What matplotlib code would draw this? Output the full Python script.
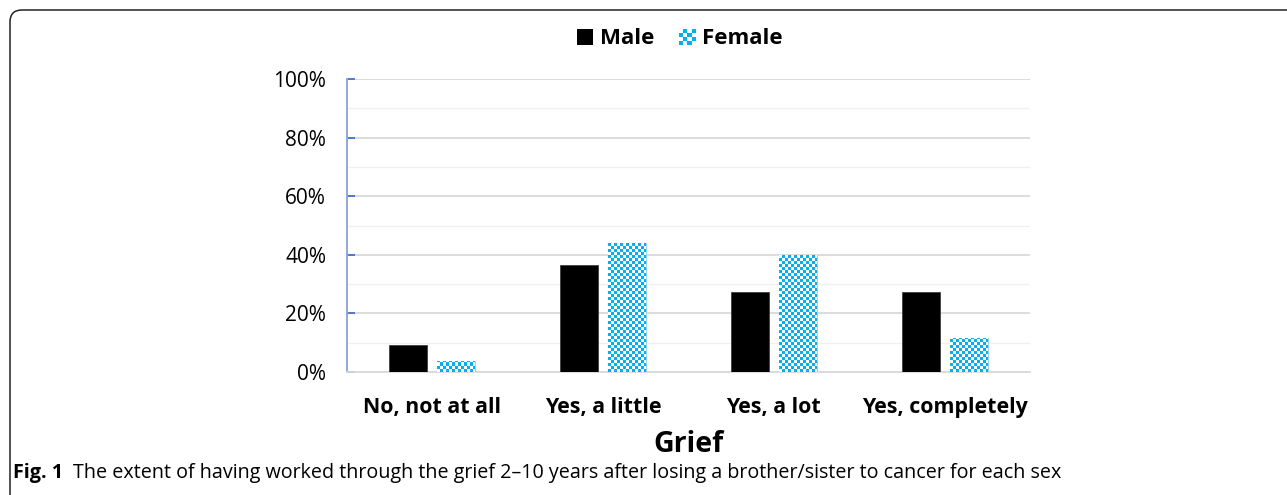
import numpy as np
import matplotlib
matplotlib.use("Agg")
import matplotlib.pyplot as plt
from matplotlib.patches import Rectangle, FancyBboxPatch, Patch
from matplotlib.legend_handler import HandlerBase
from matplotlib.ticker import MultipleLocator, PercentFormatter
from matplotlib.colors import ListedColormap

categories = ["No, not at all", "Yes, a little", "Yes, a lot", "Yes, completely"]
male = [9.1, 36.4, 27.3, 27.3]
female = [3.8, 44.0, 40.0, 11.6]
series_names = ["Male", "Female"]
ytick_values = [0, 20, 40, 60, 80, 100]
axis_title = "Grief"
caption_bold = "Fig. 1"
caption_text = "The extent of having worked through the grief 2\u201310 years after losing a brother/sister to cancer for each sex"

BLUE = "#00b0f0"
plt.rcParams["font.family"] = ["Open Sans", "DejaVu Sans"]

fig = plt.figure(figsize=(12.87, 4.95), dpi=100)
ax = fig.add_axes([347/1287, 1-372/495, (1030-347)/1287, (372-79)/495])

x = np.arange(len(categories))
w = 0.2225
off = 0.14
ax.bar(x - off, male, w, color="black", edgecolor="#404040", linewidth=0.6, zorder=3)
fbars = ax.bar(x + off, female, w, color="white", edgecolor="#7fd0f0", linewidth=0.6, zorder=3)

# checkerboard fill for female bars
ncx, ncy = 228, 98
yy, xx = np.mgrid[0:ncy, 0:ncx]
checker = ((xx + yy) % 2).astype(float)
cmap = ListedColormap(["white", BLUE])
for b in fbars:
    im = ax.imshow(checker, cmap=cmap, extent=(-0.5, len(categories) - 0.5, 0, 100),
                   aspect="auto", interpolation="nearest", zorder=3.5, origin="lower")
    im.set_clip_path(b)
ax.set_xlim(-0.5, len(categories) - 0.5)
ax.set_ylim(0, 100)

ax.yaxis.set_minor_locator(MultipleLocator(10))
ax.set_yticks(ytick_values)
ax.yaxis.set_major_formatter(PercentFormatter(decimals=0))
ax.grid(axis="y", which="major", color="#d9d9d9", linewidth=1.3, zorder=0)
ax.grid(axis="y", which="minor", color="#f0f0f0", linewidth=1.0, zorder=0)
ax.set_axisbelow(True)

for s in ["top", "right"]:
    ax.spines[s].set_visible(False)
ax.spines["left"].set_color("#8eaadb")
ax.spines["left"].set_linewidth(1.4)
ax.spines["bottom"].set_color("#d9d9d9")
ax.spines["bottom"].set_linewidth(1.3)

ax.tick_params(axis="y", which="major", direction="in", length=6, width=1.3,
               color="#4472c4", pad=15, labelsize=15, labelcolor="black")
ax.tick_params(axis="y", which="minor", length=0)
ax.tick_params(axis="x", length=0, pad=18)
ax.set_xticks(x)
ax.set_xticklabels(categories, fontsize=15.4, fontweight="bold")

fig.text(688.5/1287, 1-445/495, axis_title, ha="center", va="center",
         fontsize=20.5, fontweight="bold")


class CheckerHandler(HandlerBase):
    def create_artists(self, legend, orig_handle, xdescent, ydescent, width, height, fontsize, trans):
        arts = []
        n = 4
        s = height / n
        x0 = -xdescent + (width - height) / 2
        y0 = -ydescent
        for i in range(n):
            for j in range(n):
                c = BLUE if (i + j) % 2 == 0 else "white"
                arts.append(Rectangle((x0 + i * s, y0 + j * s), s, s, facecolor=c,
                                      edgecolor="none", transform=trans))
        return arts


class SquareHandler(HandlerBase):
    def create_artists(self, legend, orig_handle, xdescent, ydescent, width, height, fontsize, trans):
        x0 = -xdescent + (width - height) / 2
        return [Rectangle((x0, -ydescent), height, height, facecolor="black", edgecolor="none",
                          transform=trans)]


h_m = Patch(facecolor="black")
h_f = Patch(facecolor=BLUE)
leg = fig.legend([h_m, h_f], series_names, loc="center", bbox_to_anchor=(680/1287, 1-39/495),
                 ncol=2, frameon=False, prop={"weight": "bold", "size": 16},
                 handler_map={h_m: SquareHandler(), h_f: CheckerHandler()},
                 handlelength=0.75, handleheight=0.75, handletextpad=0.3, columnspacing=1.1)

# rounded border (open to right/bottom)
border = FancyBboxPatch((0.10, -0.5), 13.5, 4.85 + 0.5, boxstyle="round,pad=0,rounding_size=0.12",
                        transform=fig.dpi_scale_trans, facecolor="none", edgecolor="#222222",
                        linewidth=1.1, clip_on=False)
fig.patches.append(border)

t1 = fig.text(13/1287, 1-473/495, caption_bold, ha="left", va="center", fontsize=14.2,
              fontweight="bold")
fig.canvas.draw()
bb = t1.get_window_extent()
fig.text((bb.x1 + 10)/1287, 1-473/495, caption_text, ha="left", va="center", fontsize=14.2)

fig.savefig("out.png", dpi=100)
